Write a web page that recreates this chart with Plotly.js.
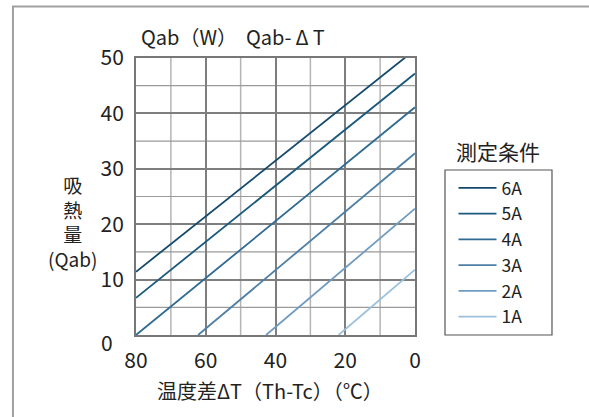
<!DOCTYPE html>
<html><head><meta charset="utf-8">
<script src="https://cdn.plot.ly/plotly-3.0.1.min.js"></script>
<style>html,body{margin:0;padding:0;background:#fff;}#plot{width:589px;height:417px;}</style>
</head><body><div id="plot"></div>
<script>
const seriesNames = ['6A','5A','4A','3A','2A','1A'];
const seriesColors = ['#14496d','#1a5a7e','#2f6a92','#4d7fa6','#6f9bc0','#9bc0dc'];
const x6 = [80, 0],   y6 = [11.4, 51.5];
const x5 = [80, 0],   y5 = [6.7, 47.2];
const x4 = [80, 0],   y4 = [0, 41.1];
const x3 = [62.2, 0], y3 = [0, 32.8];
const x2 = [42.7, 0], y2 = [0, 22.8];
const x1 = [21.9, 0], y1 = [0, 11.8];
const xs = [x6,x5,x4,x3,x2,x1], ys = [y6,y5,y4,y3,y2,y1];
const xTickVals = [80,60,40,20,0];
const yTickVals = [10,20,30,40,50];

const F = '"Noto Sans CJK JP", "Noto Sans", sans-serif';
const traces = seriesNames.map((n,i)=>({
  type:'scatter', mode:'lines', name:n, x:xs[i], y:ys[i],
  line:{color:seriesColors[i], width:1.8}
}));
const shapes = [];
[70,50,30,10].forEach(v=>shapes.push({type:'line',xref:'x',yref:'paper',x0:v,x1:v,y0:0,y1:1,line:{color:'#b4b4b4',width:1.5},layer:'below'}));
[5,15,25,35,45].forEach(v=>shapes.push({type:'line',xref:'paper',yref:'y',x0:0,x1:1,y0:v,y1:v,line:{color:'#9a9a9a',width:1.2},layer:'below'}));
// outer frame
shapes.push({type:'path',xref:'paper',yref:'paper',path:'M 2,1.186 L -0.441,1.186 L -0.441,-0.5',line:{color:'#a0a0a0',width:2}});
// legend box
shapes.push({type:'rect',xref:'paper',yref:'paper',x0:1.1075,x1:1.491,y0:0.0,y1:0.5957,line:{color:'#555',width:1.2}});

const layout = {
  width:589, height:417,
  margin:{l:136, r:174, t:58, b:82},
  paper_bgcolor:'#fff', plot_bgcolor:'#fff',
  font:{family:F, size:18, color:'#222'},
  showlegend:true,
  legend:{x:1.138, xanchor:'left', y:0.5957, yanchor:'top', borderwidth:0, bgcolor:'rgba(0,0,0,0)',
          font:{family:F, size:17.5, color:'#222'}, tracegroupgap:0, itemwidth:38},
  xaxis:{range:[80,0], tickvals:xTickVals, ticks:'', showline:true, linecolor:'#777', linewidth:2, mirror:true,
         showgrid:true, gridcolor:'#7e7e7e', gridwidth:2, zeroline:false, ticklabelstandoff:6,
         tickfont:{family:F, size:21, color:'#222'}},
  yaxis:{range:[0,50], tickvals:yTickVals, ticks:'', showline:true, linecolor:'#777', linewidth:2, mirror:true,
         showgrid:true, gridcolor:'#7e7e7e', gridwidth:2, zeroline:false, ticklabelstandoff:6,
         tickfont:{family:F, size:21, color:'#222'}},
  shapes:shapes,
  annotations:[
    {text:'Qab（W）  Qab-\u2009Δ\u2009T', xref:'paper', yref:'paper', x:0.011, y:1.076, xanchor:'left', yanchor:'middle', showarrow:false, font:{family:F,size:20,color:'#222'}},
    {text:'0', xref:'paper', yref:'paper', x:-0.104, y:-0.025, xanchor:'center', yanchor:'middle', showarrow:false, font:{family:F,size:21,color:'#222'}},
    {text:'吸<br>熱<br>量<br>(Qab)', xref:'paper', yref:'paper', x:-0.229, y:0.41, xanchor:'center', yanchor:'middle', showarrow:false, font:{family:F,size:19,color:'#222'}},
    {text:'温度差ΔT（Th-Tc）（℃）', xref:'paper', yref:'paper', x:0.48, y:-0.202, xanchor:'center', yanchor:'middle', showarrow:false, font:{family:F,size:20,color:'#222'}},
    {text:'測定条件', xref:'paper', yref:'paper', x:1.297, y:0.664, xanchor:'center', yanchor:'middle', showarrow:false, font:{family:F,size:21,color:'#222'}}
  ]
};
Plotly.newPlot('plot', traces, layout, {displayModeBar:false, staticPlot:true});
</script></body></html>
